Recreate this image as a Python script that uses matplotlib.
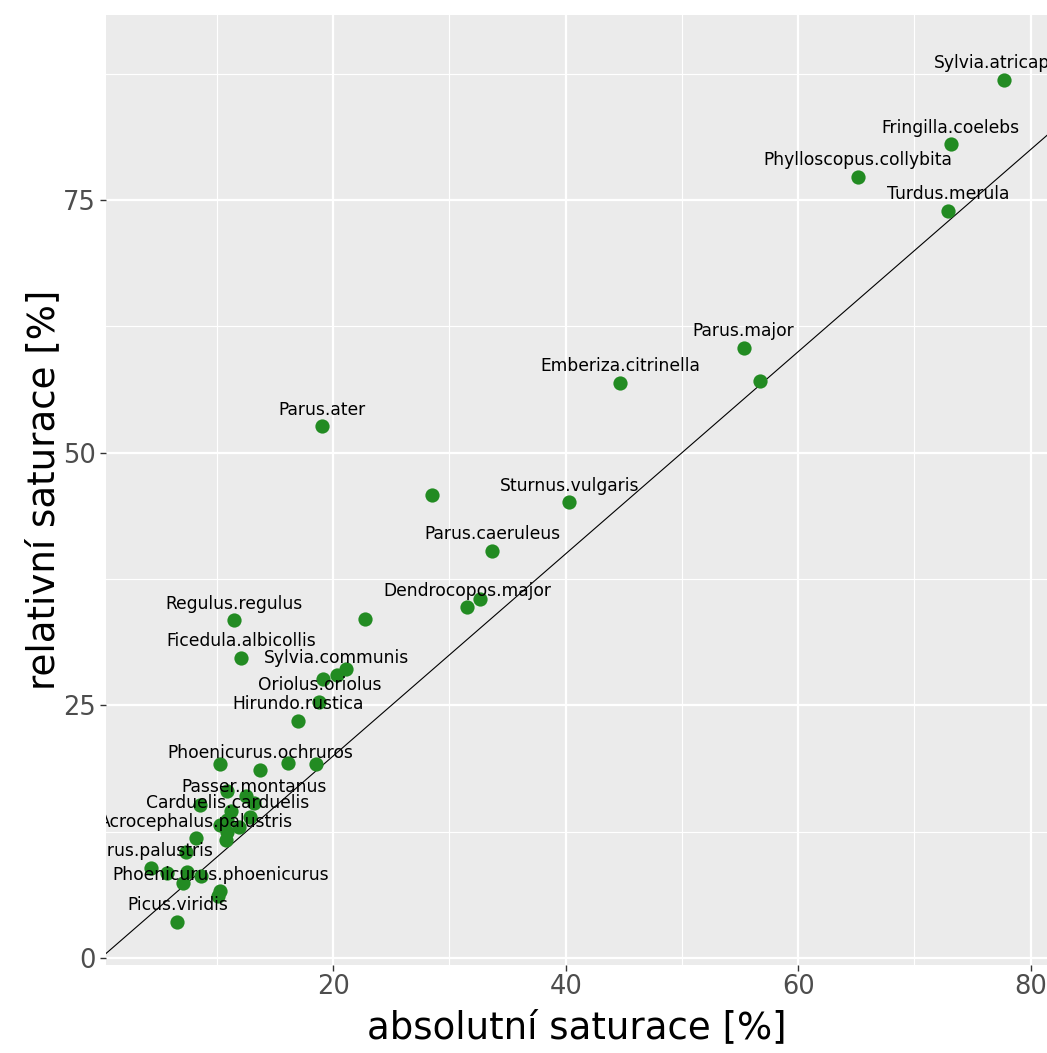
import matplotlib
matplotlib.use("Agg")
import matplotlib.pyplot as plt
from matplotlib.ticker import MultipleLocator

# absolutni / relativni saturace for each species ("" = label left out)
species = [
    "Sylvia.atricapilla", "Fringilla.coelebs", "Phylloscopus.collybita", "Turdus.merula",
    "Parus.major", "", "Emberiza.citrinella", "Parus.ater", "", "Sturnus.vulgaris",
    "Parus.caeruleus", "", "Dendrocopos.major", "", "Regulus.regulus",
    "Ficedula.albicollis", "", "Sylvia.communis", "", "Oriolus.oriolus",
    "Hirundo.rustica", "", "Phoenicurus.ochruros", "", "",
    "", "", "Passer.montanus", "", "",
    "", "Carduelis.carduelis", "", "", "",
    "", "Acrocephalus.palustris", "", "Parus.palustris", "",
    "", "", "", "Phoenicurus.phoenicurus", "", "Picus.viridis",
]
abs_sat = [
    77.7, 73.1, 65.1, 72.9,
    55.3, 56.7, 44.7, 19.0, 28.5, 40.3,
    33.7, 32.6, 31.5, 22.75, 11.5,
    12.1, 19.1, 20.3, 21.1, 18.8,
    17.0, 10.3, 13.7, 16.15, 18.5,
    10.9, 12.5, 13.2, 8.5, 11.2,
    12.8, 10.9, 10.3, 11.9, 10.9,
    10.8, 8.2, 7.3, 4.3, 5.7,
    7.4, 8.6, 7.05, 10.3, 10.1, 6.6,
]
rel_sat = [
    86.9, 80.5, 77.3, 73.9,
    60.4, 57.1, 56.9, 52.6, 45.8, 45.1,
    40.3, 35.5, 34.7, 33.5, 33.4,
    29.7, 27.6, 28.0, 28.6, 25.35,
    23.5, 19.2, 18.6, 19.3, 19.2,
    16.5, 16.0, 15.3, 15.1, 14.6,
    14.0, 13.7, 13.2, 13.0, 12.5,
    11.7, 11.85, 10.5, 8.9, 8.4,
    8.5, 8.1, 7.45, 6.6, 6.1, 3.6,
]

x_ticks = [20, 40, 60, 80]
y_ticks = [0, 25, 50, 75]

plt.rcParams["font.family"] = ["DejaVu Sans"]

fig = plt.figure(figsize=(10.47, 10.53), dpi=100)
ax = fig.add_axes([0.1012, 0.0839, 0.8988, 0.9018])

ax.set_facecolor("#EBEBEB")
for side in ax.spines.values():
    side.set_visible(False)

ax.set_xlim(0.45, 81.4)
ax.set_ylim(-0.65, 93.3)
ax.set_xticks(x_ticks)
ax.set_yticks(y_ticks)
ax.xaxis.set_minor_locator(MultipleLocator(10))
ax.yaxis.set_minor_locator(MultipleLocator(12.5))
ax.grid(which="major", color="white", linewidth=1.6)
ax.grid(which="minor", color="white", linewidth=0.8)
ax.set_axisbelow(True)
ax.tick_params(which="major", length=4, width=1.0, color="#333333",
               labelsize=18.5, labelcolor="#4D4D4D", pad=3)
ax.tick_params(which="minor", length=0)

# y = x reference line
ax.axline((0, 0), slope=1, color="black", linewidth=0.8, zorder=2)

ax.scatter(abs_sat, rel_sat, s=105, color="#228B22", linewidths=0, zorder=3)

for name, xv, yv in zip(species, abs_sat, rel_sat):
    if name:
        ax.annotate(name, (xv, yv), xytext=(0, 12), textcoords="offset points",
                    ha="center", va="center", fontsize=12.3, color="black",
                    annotation_clip=False, clip_on=True, zorder=4)

ax.set_xlabel("absolutní saturace [%]", fontsize=26.7, labelpad=6)
ax.set_ylabel("relativní saturace [%]", fontsize=26.7, labelpad=1)

fig.savefig("out.png", dpi=100)
